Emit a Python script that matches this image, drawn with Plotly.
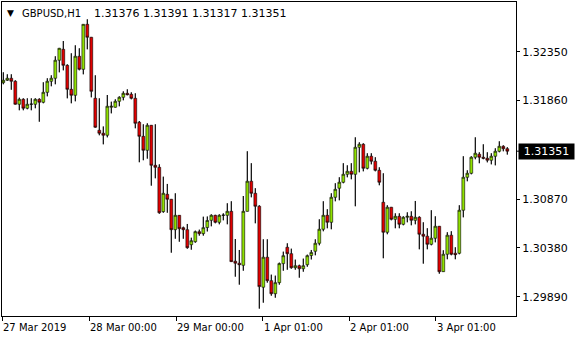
import plotly.graph_objects as go

# ---- data (GBPUSD H1) ----
opens = [1.32039,1.32063,1.32083,1.32053,1.31822,1.31872,1.31782,1.31822,1.31822,1.31872,
         1.31842,1.31942,1.32053,1.32083,1.32264,1.32374,1.32213,1.31972,1.31912,1.32304,
         1.32173,1.32625,1.32495,1.31882,1.31561,1.31531,1.31511,1.31792,1.31792,1.31852,
         1.31892,1.31932,1.31922,1.31882,1.31641,1.31500,1.31360,1.31611,1.31209,1.31189,
         1.30744,1.30918,1.30868,1.30563,1.30707,1.30583,1.30563,1.30412,1.30442,1.30543,
         1.30523,1.30585,1.30657,1.30707,1.30637,1.30707,1.30707,1.30747,1.30246,1.30226,
         1.30205,1.30747,1.31049,1.30928,1.30798,1.29985,1.30286,1.30051,1.29920,1.30031,
         1.30222,1.30386,1.30322,1.30181,1.30201,1.30171,1.30211,1.30304,1.30346,1.30426,
         1.30567,1.30707,1.30637,1.30888,1.30979,1.31039,1.31119,1.31149,1.31119,1.31390,
         1.31420,1.31179,1.31300,1.31250,1.31159,1.30838,1.30537,1.30788,1.30667,1.30697,
         1.30617,1.30687,1.30697,1.30657,1.30687,1.30517,1.30497,1.30416,1.30477,1.30597,
         1.30141,1.30316,1.30507,1.30326,1.30326,1.30758,1.31089,1.31129,1.31290,1.31320,
         1.31290,1.31280,1.31260,1.31300,1.31350,1.31400,1.31376]
highs = [1.32143,1.32123,1.32123,1.32063,1.31888,1.31882,1.31882,1.31882,1.31882,1.31882,
         1.32043,1.32083,1.32113,1.32304,1.32388,1.32457,1.32223,1.32334,1.32414,1.32384,
         1.32628,1.32675,1.32498,1.32113,1.31882,1.31599,1.31915,1.31848,1.31872,1.31902,
         1.31952,1.31972,1.31942,1.31932,1.31654,1.31621,1.31631,1.31614,1.31621,1.31219,
         1.31095,1.31022,1.30871,1.30928,1.30710,1.30593,1.30620,1.30482,1.30553,1.30563,
         1.30693,1.30695,1.30717,1.30712,1.30717,1.30727,1.30828,1.30848,1.30469,1.30359,
         1.30901,1.31350,1.31230,1.30979,1.30808,1.30466,1.30466,1.30111,1.30101,1.30232,
         1.30342,1.30426,1.30372,1.30262,1.30211,1.30272,1.30312,1.30359,1.30466,1.30667,
         1.30848,1.30768,1.30928,1.31029,1.31089,1.31230,1.31209,1.31230,1.31490,1.31440,
         1.31430,1.31330,1.31330,1.31290,1.31189,1.31129,1.30808,1.30791,1.30727,1.30727,
         1.30697,1.30737,1.30747,1.30851,1.30697,1.30637,1.30577,1.30758,1.30697,1.30600,
         1.30356,1.30537,1.30547,1.30386,1.30808,1.31300,1.31159,1.31300,1.31490,1.31340,
         1.31420,1.31340,1.31330,1.31380,1.31450,1.31410,1.31391]
lows = [1.32023,1.32056,1.31968,1.31818,1.31762,1.31762,1.31772,1.31762,1.31782,1.31647,
        1.31832,1.31902,1.32003,1.32023,1.32143,1.32163,1.31882,1.31832,1.31852,1.32163,
        1.32123,1.32374,1.31892,1.31586,1.31511,1.31420,1.31490,1.31731,1.31788,1.31802,
        1.31862,1.31912,1.31872,1.31581,1.31240,1.31260,1.31276,1.31005,1.31079,1.30723,
        1.30733,1.30733,1.30332,1.30472,1.30442,1.30472,1.30372,1.30362,1.30432,1.30503,
        1.30503,1.30545,1.30597,1.30627,1.30617,1.30657,1.30617,1.30238,1.30091,1.30011,
        1.30151,1.30744,1.30888,1.30627,1.29770,1.29830,1.30031,1.29900,1.29880,1.30011,
        1.30151,1.30161,1.30171,1.30161,1.30081,1.30141,1.30191,1.30264,1.30306,1.30406,
        1.30547,1.30577,1.30567,1.30848,1.30858,1.31029,1.31089,1.31069,1.30798,1.31139,
        1.31149,1.31169,1.31219,1.31149,1.31009,1.30276,1.30517,1.30657,1.30577,1.30577,
        1.30607,1.30637,1.30607,1.30617,1.30366,1.30222,1.30366,1.30406,1.30436,1.30121,
        1.30138,1.30266,1.30306,1.30266,1.30316,1.30687,1.31049,1.31119,1.31270,1.31230,
        1.31270,1.31239,1.31219,1.31209,1.31340,1.31350,1.31317]
closes = [1.32063,1.32083,1.32053,1.31822,1.31872,1.31782,1.31822,1.31824,1.31872,1.31842,
          1.31942,1.32053,1.32083,1.32264,1.32384,1.32213,1.31972,1.31912,1.32304,1.32173,
          1.32625,1.32495,1.31952,1.31591,1.31531,1.31511,1.31802,1.31802,1.31852,1.31892,
          1.31932,1.31918,1.31882,1.31631,1.31500,1.31360,1.31611,1.31209,1.31189,1.30733,
          1.30928,1.30868,1.30563,1.30707,1.30573,1.30563,1.30382,1.30452,1.30543,1.30523,
          1.30583,1.30655,1.30707,1.30637,1.30707,1.30709,1.30747,1.30242,1.30226,1.30211,
          1.30747,1.31049,1.30928,1.30798,1.29991,1.30286,1.30051,1.29920,1.30031,1.30222,
          1.30302,1.30322,1.30181,1.30201,1.30171,1.30201,1.30302,1.30334,1.30426,1.30567,
          1.30707,1.30637,1.30888,1.30968,1.31039,1.31119,1.31149,1.31119,1.31390,1.31420,
          1.31179,1.31300,1.31250,1.31159,1.31039,1.30537,1.30788,1.30667,1.30697,1.30617,
          1.30687,1.30697,1.30657,1.30687,1.30517,1.30497,1.30416,1.30477,1.30597,1.30141,
          1.30316,1.30507,1.30316,1.30312,1.30758,1.31089,1.31129,1.31290,1.31330,1.31290,
          1.31280,1.31260,1.31300,1.31350,1.31400,1.31376,1.31351]

symbol = "GBPUSD,H1"
y_ticks = [1.29890, 1.30380, 1.30870, 1.31860, 1.32350]
x_tick_labels = ["27 Mar 2019", "28 Mar 00:00", "29 Mar 00:00", "1 Apr 01:00", "2 Apr 01:00", "3 Apr 01:00"]
x_tick_pos = [-0.3, 21.5, 43.18, 64.85, 86.43, 108.1]

bars = list(range(len(opens)))

W, H = 580, 340
L, R, T, B = 2, 64, 2, 24
pw, ph = W - L - R, H - T - B
Y_RANGE = [1.29696, 1.32849]

def px_x(p):
    return (p - L) / pw

def px_y(p):
    return (H - B - p) / ph

FONT = "DejaVu Sans"
X0 = -0.325
BULL, BEAR = "#8fe000", "#e00000"

body_top = [max(o, c) for o, c in zip(opens, closes)]
body_bot = [min(o, c) for o, c in zip(opens, closes)]

# solid wicks drawn only outside the bodies
wx, wy = [], []
for i, h, l, t, b in zip(bars, highs, lows, body_top, body_bot):
    wx += [i, i, None, i, i, None]
    wy += [h, t, None, b, l, None]

fig = go.Figure()
fig.add_trace(go.Candlestick(
    x=bars, open=opens, high=highs, low=lows, close=closes,
    increasing=dict(fillcolor=BULL, line=dict(color="black", width=0.6)),
    decreasing=dict(fillcolor=BEAR, line=dict(color="black", width=0.6)),
    whiskerwidth=0, hoverinfo="skip", showlegend=False,
))
fig.add_trace(go.Scatter(x=wx, y=wy, mode="lines", line=dict(color="black", width=1),
                         hoverinfo="skip", showlegend=False))

annotations = []
# header
annotations.append(dict(text="▼", xref="paper", yref="paper", x=px_x(6), y=px_y(13.3),
                        xanchor="left", yanchor="middle", showarrow=False, borderpad=0,
                        font=dict(family=FONT, size=9, color="black")))
annotations.append(dict(text=symbol, xref="paper", yref="paper", x=px_x(21), y=px_y(13.3),
                        xanchor="left", yanchor="middle", showarrow=False, borderpad=0,
                        font=dict(family=FONT, size=10, color="black")))
ohlc_txt = " ".join(f"{v:.5f}" for v in (opens[-1], highs[-1], lows[-1], closes[-1]))
annotations.append(dict(text=ohlc_txt, xref="paper", yref="paper", x=px_x(92.5), y=px_y(13.3),
                        xanchor="left", yanchor="middle", showarrow=False, borderpad=0,
                        font=dict(family=FONT, size=11, color="black")))
# x labels (left aligned at ticks)
for pos, lab in zip(x_tick_pos, x_tick_labels):
    annotations.append(dict(text=lab, xref="x", yref="paper", x=pos, y=px_y(327.7),
                            xanchor="left", yanchor="middle", showarrow=False, borderpad=0,
                            font=dict(family=FONT, size=10, color="black")))
# current price box
annotations.append(dict(text=f"{closes[-1]:.5f}", xref="paper", yref="y", x=px_x(518),
                        y=closes[-1], xanchor="left", yanchor="middle", showarrow=False,
                        bgcolor="black", borderpad=0, width=55, height=15, align="center",
                        font=dict(family=FONT, size=11, color="white")))

shapes = [dict(type="line", xref="paper", yref="y", x0=1.0, x1=px_x(519.5),
               y0=closes[-1], y1=closes[-1], line=dict(color="black", width=1))]

fig.update_layout(
    width=W, height=H, margin=dict(l=L, r=R, t=T, b=B),
    paper_bgcolor="white", plot_bgcolor="white",
    boxgap=0.3, boxgroupgap=0,
    annotations=annotations, shapes=shapes,
    xaxis=dict(range=[X0, X0 + pw / 4], showgrid=False, zeroline=False,
               rangeslider=dict(visible=False), showline=True, mirror=True,
               linecolor="black", linewidth=1, ticks="outside", ticklen=4,
               tickcolor="black", tickvals=x_tick_pos, showticklabels=False),
    yaxis=dict(range=Y_RANGE, side="right", showgrid=False, zeroline=False,
               showline=True, mirror=True, linecolor="black", linewidth=1,
               ticks="outside", ticklen=3, tickcolor="black", tickvals=y_ticks,
               ticktext=[f"{v:.5f}" for v in y_ticks],
               tickfont=dict(family=FONT, size=11, color="black")),
    font=dict(family=FONT),
)

fig.write_html("out.html", config={"displayModeBar": False})
